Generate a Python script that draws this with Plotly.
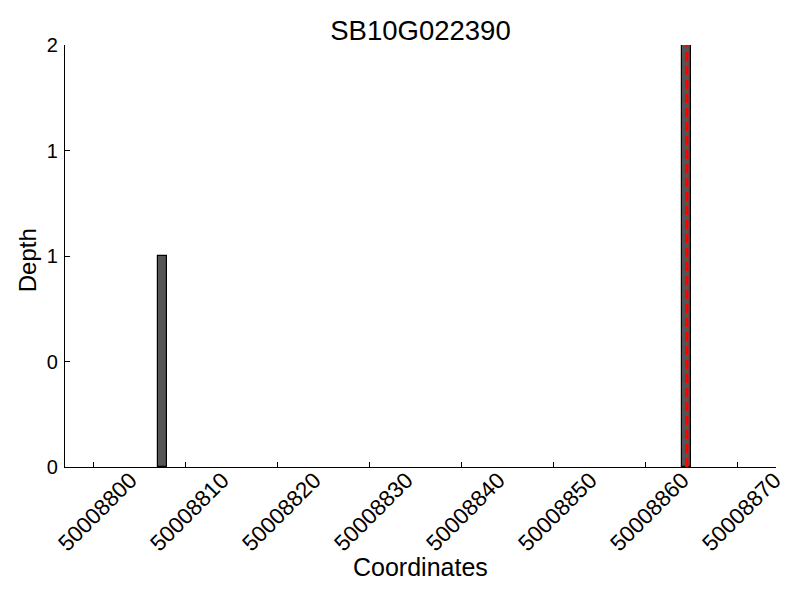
import plotly.graph_objects as go

title = "SB10G022390"
x_title = "Coordinates"
y_title = "Depth"
positions = [50008807, 50008864]
depths = [1, 2]
snp_position = 50008864.5
x_tick_vals = [50008800, 50008810, 50008820, 50008830, 50008840, 50008850, 50008860, 50008870]
y_tick_vals = [0, 0.5, 1, 1.5, 2]
y_tick_text = ["0", "0", "1", "1", "2"]

font_family = "Liberation Sans, Arial, sans-serif"

fig = go.Figure()
fig.add_trace(go.Bar(
    x=positions, y=depths, width=[1] * len(positions), offset=0,
    marker=dict(color="#555555", line=dict(color="black", width=1.2)),
    showlegend=False,
))
fig.add_shape(type="line", x0=snp_position, x1=snp_position, y0=0, y1=max(depths),
              xref="x", yref="y", layer="above",
              line=dict(color="#ff0000", width=3.5, dash="9px,5px"))

# axis titles placed like the reference
fig.add_annotation(text=x_title, xref="paper", yref="paper", x=0.5, y=-0.237,
                   xanchor="center", yanchor="middle", showarrow=False,
                   font=dict(family=font_family, size=25, color="black"))
fig.add_annotation(text=y_title, xref="paper", yref="paper", x=-0.0534, y=0.49,
                   xanchor="center", yanchor="middle", showarrow=False, textangle=-90,
                   font=dict(family=font_family, size=24, color="black"))

fig.update_layout(
    width=792, height=592,
    paper_bgcolor="white", plot_bgcolor="white",
    margin=dict(l=57, r=24, t=37, b=133, autoexpand=False),
    title=dict(text=title, xref="paper", x=0.5, xanchor="center",
               yref="container", y=1 - 22 / 592, yanchor="middle",
               font=dict(family=font_family, size=27.5, color="black")),
    font=dict(family=font_family, color="black"),
    bargap=0,
)
fig.update_xaxes(
    range=[50008796.92, 50008874.2],
    tickmode="array", tickvals=x_tick_vals, ticktext=[str(v) for v in x_tick_vals],
    tickangle=-45, tickfont=dict(size=22.5), ticklabelshift=37, ticklabelstandoff=-10,
    ticks="inside", ticklen=5, tickcolor="black",
    showline=True, linecolor="black", linewidth=1.2,
    showgrid=False, zeroline=False, automargin=False,
)
fig.update_yaxes(
    range=[0, 2],
    tickmode="array", tickvals=y_tick_vals, ticktext=y_tick_text,
    tickfont=dict(size=20), ticklabelstandoff=2,
    ticks="inside", ticklen=5, tickcolor="black",
    showline=True, linecolor="black", linewidth=1.2,
    showgrid=False, zeroline=False, automargin=False,
)

fig.write_html("out.html")
